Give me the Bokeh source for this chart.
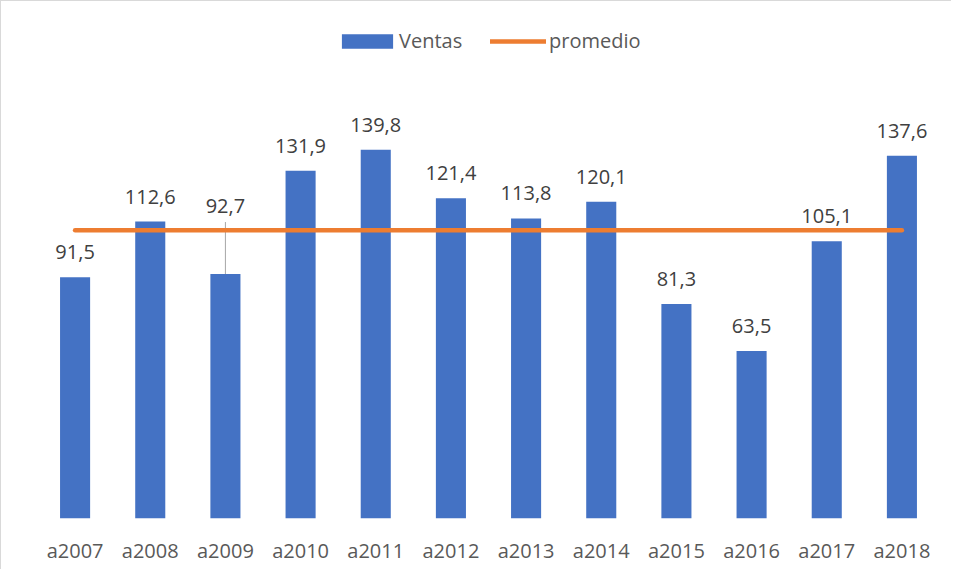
from bokeh.plotting import figure
from bokeh.models import (ColumnDataSource, FactorRange, Range1d, Legend, LegendItem,
                          LabelSet)
from bokeh.core.properties import value
from bokeh.embed import file_html
from bokeh.resources import INLINE

# ---- data ----
categories = ["a2007", "a2008", "a2009", "a2010", "a2011", "a2012",
              "a2013", "a2014", "a2015", "a2016", "a2017", "a2018"]
ventas = [91.5, 112.6, 92.7, 131.9, 139.8, 121.4, 113.8, 120.1, 81.3, 63.5, 105.1, 137.6]
labels = ["91,5", "112,6", "92,7", "131,9", "139,8", "121,4",
          "113,8", "120,1", "81,3", "63,5", "105,1", "137,6"]

promedio = sum(ventas) / len(ventas)

# ---- style ----
BLUE = "#4472C4"
ORANGE = "#ED7D31"
FONT = "Open Sans"
BL, BR, BT, BB = 36, 12, 17, 51
FW, FH = 902, 500
YMAX = 189.6
px_per_unit = FH / YMAX
label_gap = {c: 25 for c in categories}
label_gap["a2009"] = 68   # moved label with leader line

p = figure(x_range=FactorRange(factors=categories), y_range=Range1d(0, YMAX),
           frame_width=FW, frame_height=FH, output_backend="svg", toolbar_location=None,
           min_border_left=BL, min_border_right=BR, min_border_top=BT,
           min_border_bottom=BB)
p.styles = {"border-top": "1px solid #d9d9d9", "border-left": "1px solid #d9d9d9"}

src = ColumnDataSource(dict(cat=categories, v=ventas, lab=labels,
                            off=[label_gap[c] for c in categories]))

bars = p.vbar(x="cat", top="v", width=0.4, source=src, fill_color=BLUE, line_color=None)

# leader line for moved label
moved = [i for i, c in enumerate(categories) if label_gap[c] != 25]
lead_src = ColumnDataSource(dict(
    x=[categories[i] for i in moved],
    y0=[ventas[i] for i in moved],
    y1=[ventas[i] + (label_gap[categories[i]] - 16) / px_per_unit for i in moved]))
p.segment(x0="x", y0="y0", x1="x", y1="y1", source=lead_src, line_color="#A6A6A6", line_width=1)

avg = p.line(x=[categories[0], categories[-1]], y=[promedio, promedio],
             line_color=ORANGE, line_width=4.5, line_cap="round")

ls = LabelSet(x="cat", y="v", text="lab", y_offset="off", source=src,
              text_align="center", text_baseline="middle",
              text_font=value(FONT), text_font_size="20px", text_color="#404040")
p.add_layout(ls)

p.yaxis.visible = False
p.xgrid.visible = False
p.ygrid.visible = False
p.outline_line_color = None
p.xaxis.axis_line_color = None
p.xaxis.major_tick_line_color = None
p.xaxis.minor_tick_line_color = None
p.xaxis.major_tick_out = 0
p.xaxis.major_tick_in = 0
p.xaxis.major_label_standoff = 18
p.xaxis.major_label_text_font = FONT
p.xaxis.major_label_text_font_size = "20px"
p.xaxis.major_label_text_color = "#595959"

common = dict(orientation="horizontal", padding=0, margin=0, spacing=0,
              label_height=20, border_line_color=None, background_fill_alpha=0,
              label_text_font=FONT, label_text_font_size="20px",
              label_text_color="#595959")
leg1 = Legend(items=[LegendItem(label="Ventas", renderers=[bars])],
              location=(298, 464), glyph_width=64, glyph_height=18,
              label_standoff=0, **common)
leg2 = Legend(items=[LegendItem(label="promedio", renderers=[avg])],
              location=(453, 464), glyph_width=56, glyph_height=18,
              label_standoff=3, **common)
p.add_layout(leg1)
p.add_layout(leg2)

open("out.html", "w").write(file_html(p, INLINE))
